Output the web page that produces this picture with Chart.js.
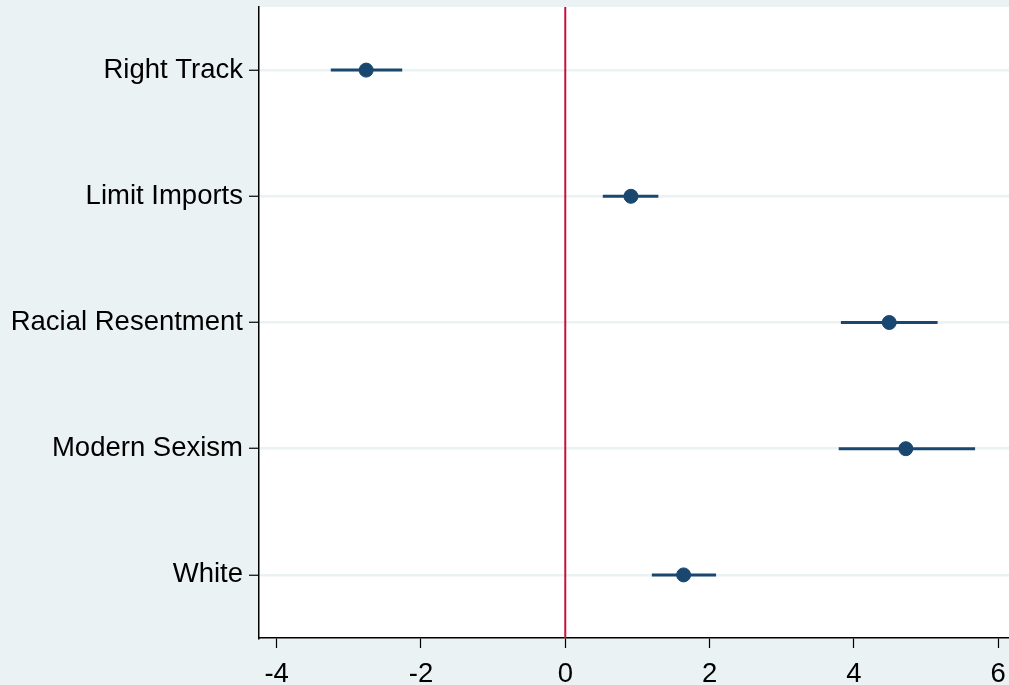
<!DOCTYPE html>
<html>
<head>
<meta charset="utf-8">
<script src="https://cdn.jsdelivr.net/npm/chart.js@4"></script>
<style>
  html, body { margin: 0; padding: 0; background: #EAF2F3; }
  canvas { display: block; }
</style>
</head>
<body>
<canvas id="c" width="1009" height="685"></canvas>
<script>
// Coefficient estimates with confidence intervals, one row per predictor
const categories = ["Right Track", "Limit Imports", "Racial Resentment", "Modern Sexism", "White"];
const estimates  = [-2.76, 0.91, 4.49, 4.72, 1.64];
const ciLower    = [-3.25, 0.52, 3.82, 3.79, 1.20];
const ciUpper    = [-2.26, 1.29, 5.16, 5.68, 2.09];
const xTicks     = [-4, -2, 0, 2, 4, 6];

const navy = "#1A476F";
const FONT = "'Liberation Sans', Arial, sans-serif";

// White plot region behind the data
const plotBackground = {
  id: "plotBackground",
  beforeDraw(chart) {
    const { ctx, chartArea: a } = chart;
    ctx.save();
    ctx.fillStyle = "#FFFFFF";
    ctx.fillRect(a.left, a.top, a.right - a.left, a.bottom - a.top);
    ctx.restore();
  }
};

// Axes keep labels outside the plot without reserving extra edge padding
const noEdgePadding = () => ({ left: 0, right: 0, top: 0, bottom: 0 });

const rows = categories.map((_, i) => i + 1);

const ciSets = rows.map((y, i) => ({
  type: "line",
  data: [{ x: ciLower[i], y }, { x: ciUpper[i], y }],
  borderColor: navy,
  borderWidth: 3,
  pointRadius: 0,
  order: 2
}));

new Chart(document.getElementById("c"), {
  type: "scatter",
  data: {
    datasets: [
      {
        type: "scatter",
        data: rows.map((y, i) => ({ x: estimates[i], y })),
        backgroundColor: navy,
        borderColor: navy,
        pointRadius: 7,
        pointHoverRadius: 7,
        order: 1
      },
      ...ciSets,
      {
        type: "line",
        data: [{ x: 0, y: 0.5 }, { x: 0, y: 5.5 }],
        borderColor: "#C8103E",
        borderWidth: 2,
        pointRadius: 0,
        order: 3
      }
    ]
  },
  options: {
    responsive: false,
    animation: false,
    layout: { autoPadding: false, padding: { top: 7, right: 0, left: 0, bottom: 0 } },
    plugins: { legend: { display: false }, tooltip: { enabled: false } },
    scales: {
      x: {
        type: "linear",
        min: -4.245,
        max: 6.15,
        afterBuildTicks(scale) { scale.ticks = xTicks.map(v => ({ value: v })); },
        afterFit(scale) {
          scale.height = 47;
          scale.paddingLeft = 0;
          scale.paddingRight = 0;
          scale.getPadding = noEdgePadding;
        },
        grid: { drawOnChartArea: false, tickLength: 10, tickColor: "#000", tickWidth: 1.2 },
        border: { color: "#000", width: 1.5 },
        ticks: {
          color: "#000",
          font: { family: FONT, size: 27.5 },
          padding: 10,
          maxRotation: 0,
          callback: v => String(v)
        }
      },
      y: {
        type: "linear",
        reverse: true,
        min: 0.5,
        max: 5.5,
        afterBuildTicks(scale) { scale.ticks = rows.map(v => ({ value: v })); },
        afterFit(scale) {
          scale.width = 259;
          scale.paddingTop = 0;
          scale.paddingBottom = 0;
          scale.getPadding = noEdgePadding;
        },
        grid: { color: "#EAF2F3", lineWidth: 2.5, tickLength: 10, tickColor: "#000", tickWidth: 1.2 },
        border: { color: "#000", width: 1.5 },
        ticks: {
          color: "#000",
          font: { family: FONT, size: 27.5 },
          padding: 6,
          callback: v => categories[v - 1]
        }
      }
    }
  },
  plugins: [plotBackground]
});
</script>
</body>
</html>
